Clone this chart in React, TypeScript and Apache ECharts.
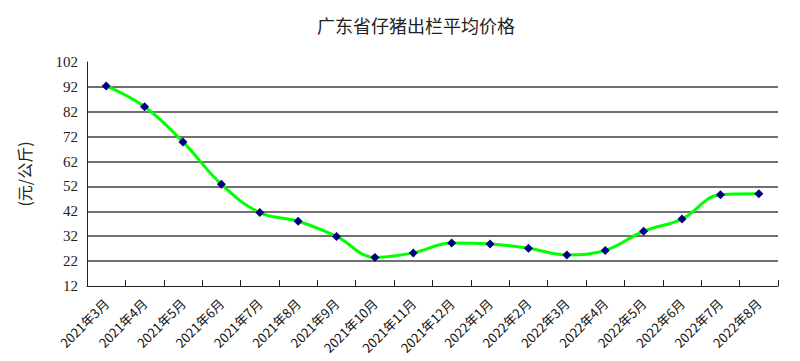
import React, { useEffect, useRef } from "react";
import * as echarts from "echarts";

const categories = [
  "2021年3月", "2021年4月", "2021年5月", "2021年6月", "2021年7月", "2021年8月",
  "2021年9月", "2021年10月", "2021年11月", "2021年12月", "2022年1月", "2022年2月",
  "2022年3月", "2022年4月", "2022年5月", "2022年6月", "2022年7月", "2022年8月",
];
const prices = [92.4, 84.0, 69.9, 52.9, 41.5, 38.0, 31.9, 23.5, 25.3, 29.3, 28.9, 27.2, 24.5, 26.3, 34.0, 38.9, 48.7, 49.1];
const yMin = 12;
const yMax = 102;
const yInterval = 10;
const title = "广东省仔猪出栏平均价格";
const yName = "(元/公斤)";

export default function App() {
  const ref = useRef<HTMLDivElement>(null);
  useEffect(() => {
    if (!ref.current) return;
    const chart = echarts.init(ref.current, null, { renderer: "svg" });
    const splitColors = [
      "rgba(0,0,0,0)", "#404040", "#404040", "#404040", "#404040",
      "#404040", "#404040", "#404040", "#404040", "rgba(0,0,0,0)",
    ];
    chart.setOption({
      animation: false,
      backgroundColor: "#ffffff",
      title: {
        text: title,
        left: 403,
        top: 3,
        textAlign: "center",
        textStyle: { fontFamily: "Noto Sans CJK SC", fontSize: 18, fontWeight: "normal", color: "#222" },
      },
      grid: { left: 78, right: 14, top: 54, bottom: 75, containLabel: false },
      xAxis: {
        type: "category",
        data: categories,
        boundaryGap: true,
        axisLine: { show: true, lineStyle: { color: "#222", width: 1 } },
        axisTick: { show: true, inside: true, length: 6, alignWithLabel: false, lineStyle: { color: "#222" } },
        axisLabel: {
          rotate: 45,
          interval: 0,
          margin: 15,
          fontSize: 13,
          color: "#111",
          fontFamily: "Noto Sans CJK SC",
        },
        splitLine: { show: false },
      },
      yAxis: {
        type: "value",
        min: yMin,
        max: yMax,
        interval: yInterval,
        name: yName,
        nameLocation: "middle",
        nameGap: 55,
        nameRotate: 90,
        nameTextStyle: { fontFamily: "Noto Sans CJK SC", fontSize: 16, color: "#222" },
        axisLine: { show: true, lineStyle: { color: "#222", width: 1 } },
        axisTick: { show: false },
        axisLabel: {
          margin: 9,
          fontSize: 15,
          color: "#222",
          fontFamily: "Liberation Serif, serif",
        },
        splitLine: { show: true, lineStyle: { color: splitColors, width: 1.5 } },
      },
      series: [
        {
          type: "line",
          data: prices,
          smooth: 0.4,
          symbol: "diamond",
          symbolSize: 9,
          itemStyle: { color: "#000080" },
          lineStyle: { color: "#00ff00", width: 3 },
        },
      ],
    });
    return () => chart.dispose();
  }, []);
  return <div ref={ref} style={{ width: 784, height: 353 }} />;
}
